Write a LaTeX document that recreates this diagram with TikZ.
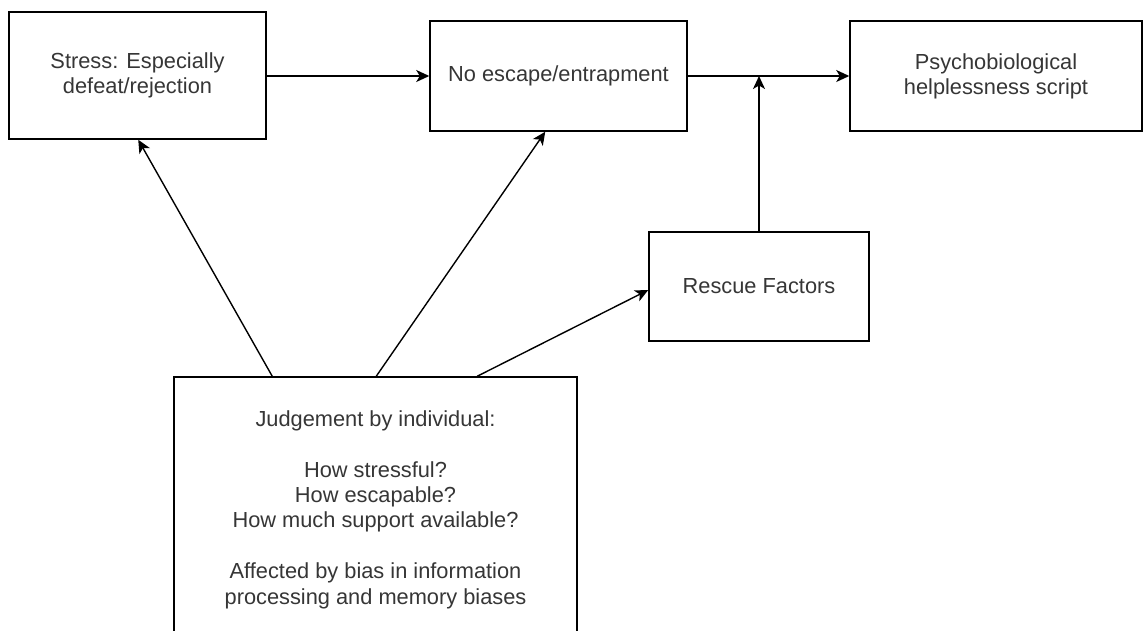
\documentclass[tikz,border=0pt]{standalone}
\usepackage{fontspec}
\setmainfont{Liberation Sans}
\usetikzlibrary{arrows.meta,calc}
\definecolor{labelgray}{HTML}{363636}
\begin{document}
\begin{tikzpicture}[x=1pt,y=-1pt,
  box/.style={draw=black,line width=1.5pt,fill=white,inner sep=0pt,align=center,
    text=labelgray,font=\fontsize{21.8}{25.2}\selectfont},
  link/.style={draw=black,line width=1.4pt,-{Stealth[length=13pt,width=12pt,inset=3.5pt]}}]
\useasboundingbox (0,0) rectangle (1144,630);
\clip (0,0) rectangle (1144,630);

\node[box,minimum width=257pt,minimum height=127pt] (A) at (137.5,75.5)
  {Stress: Especially\\defeat/rejection};
\node[box,minimum width=257pt,minimum height=110pt] (B) at (558.5,76)
  {No escape/entrapment};
\node[box,minimum width=292pt,minimum height=110pt] (C) at (996,76)
  {Psychobiological\\helplessness script};
\node[box,minimum width=220pt,minimum height=109pt] (D) at (759,286.5)
  {Rescue Factors};
\node[box,minimum width=403pt,minimum height=265pt,font=\fontsize{21.8}{25.4}\selectfont] (E) at (375.5,509.5)
  {Judgement by individual:\\[25.4pt]How stressful?\\How escapable?\\How much support available?\\[25.4pt]Affected by bias in information\\processing and memory biases};

% main chain
\draw[link] (A.east |- B.west) -- (B.west);
\draw[link] (B.east) -- (C.west);
\coordinate (J) at (D.north |- B.east);
\draw[link] (D.north) -- (J);

% judgement feeds the three factors
\draw[link] ($(E.north west)+(99,0)$) -- ($(A.south west)+(130,0)$);
\draw[link] ($(E.north west)+(203,0)$) -- ($(B.south west)+(116,0)$);
\draw[link] ($(E.north west)+(304,0)$) -- ($(D.west)+(0,3.5)$);
\end{tikzpicture}
\end{document}
